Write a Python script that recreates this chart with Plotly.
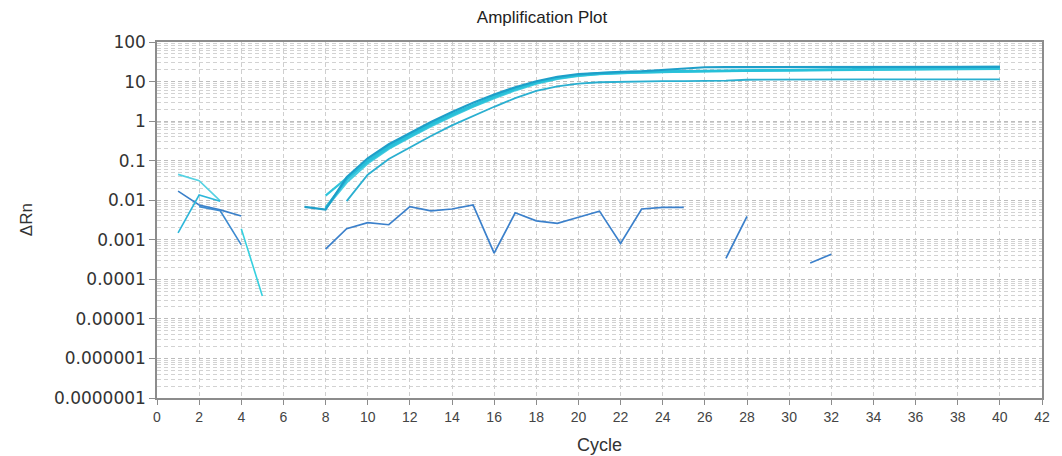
import plotly.graph_objects as go

# ---- amplification curves (ΔRn per cycle) ----
cycles_c2 = list(range(7, 41))
rn_c2 = [0.0068, 0.0058, 0.038, 0.115, 0.26, 0.5, 0.95, 1.7, 2.9, 4.7, 7.2, 10.2, 13.2,
         15.5, 16.8, 17.6, 18.2, 19.5, 21.5, 23.0, 23.2, 23.3, 23.3, 23.4, 23.4, 23.4,
         23.5, 23.5, 23.5, 23.5, 23.6, 23.6, 23.6, 23.6]

cycles_c1 = list(range(8, 41))
rn_c1 = [0.0065, 0.033, 0.1, 0.23, 0.45, 0.85, 1.5, 2.6, 4.3, 6.7, 9.6, 12.6, 14.8, 16.2,
         17.1, 17.7, 18.1, 18.5, 18.8, 19.0, 19.2, 19.4, 19.5, 19.6, 19.8, 20.5, 22.5,
         23.0, 23.1, 23.2, 23.2, 23.3, 23.3]

cycles_c3 = list(range(8, 41))
rn_c3 = [0.013, 0.036, 0.092, 0.21, 0.41, 0.78, 1.4, 2.4, 4.0, 6.3, 9.2, 12.0, 14.2, 15.6,
         16.5, 17.1, 17.6, 18.0, 18.3, 18.6, 18.8, 19.0, 19.2, 19.3, 19.5, 19.6, 19.8,
         20.0, 20.2, 20.4, 20.6, 20.7, 20.8]

cycles_c4 = list(range(8, 41))
rn_c4 = [0.0062, 0.028, 0.085, 0.2, 0.39, 0.74, 1.32, 2.3, 3.8, 6.0, 8.8, 11.6, 13.8, 15.3,
         16.2, 16.9, 17.4, 17.8, 18.2, 18.5, 18.8, 19.0, 19.2, 19.4, 19.6, 19.8, 20.0,
         20.3, 20.6, 20.9, 21.1, 21.3, 21.5]

cycles_c5 = list(range(9, 41))
rn_c5 = [0.0095, 0.044, 0.11, 0.22, 0.42, 0.78, 1.35, 2.3, 3.8, 5.8, 7.6, 8.9, 9.6, 9.9,
         10.1, 10.2, 10.3, 10.3, 10.5, 11.1, 11.2, 11.2, 11.2, 11.2, 11.2, 11.3, 11.3,
         11.3, 11.3, 11.3, 11.3, 11.3]

# ---- baseline fragments (positive ΔRn only on the log axis) ----
cycles_b1 = [1, 2, 3]
rn_b1 = [0.045, 0.031, 0.0096]
cycles_b2 = [1, 2, 3, 4]
rn_b2 = [0.017, 0.0076, 0.0057, 0.004]
cycles_b3 = [1, 2, 3]
rn_b3 = [0.0015, 0.0135, 0.0094]
cycles_b4 = [2, 3, 4]
rn_b4 = [0.0069, 0.0054, 0.00074]
cycles_b5 = [4, 5]
rn_b5 = [0.0019, 0.000038]

# ---- non-amplifying well ----
cycles_n1 = list(range(8, 26))
rn_n1 = [0.00058, 0.0019, 0.0027, 0.0024, 0.0069, 0.0054, 0.006, 0.0076, 0.00046,
         0.0048, 0.003, 0.0026, 0.0037, 0.0053, 0.00081, 0.006, 0.0066, 0.0066]
cycles_n2 = [27, 28]
rn_n2 = [0.00034, 0.0039]
cycles_n3 = [31, 32]
rn_n3 = [0.00026, 0.00043]

# ---- axis ticks ----
y_tickvals = [1e-7, 1e-6, 1e-5, 1e-4, 1e-3, 1e-2, 1e-1, 1, 10, 100]
y_ticktext = ["0.0000001", "0.000001", "0.00001", "0.0001", "0.001", "0.01", "0.1",
              "1", "10", "100"]
y_minorvals = [k * 10.0 ** d for d in range(-7, 2) for k in range(2, 10)]

series = [
    (cycles_b1, rn_b1, "#55D2E3", 1.6),
    (cycles_b2, rn_b2, "#3A80C9", 1.6),
    (cycles_b3, rn_b3, "#2DB7DA", 1.6),
    (cycles_b4, rn_b4, "#3C8AD0", 1.6),
    (cycles_b5, rn_b5, "#35D0DF", 1.6),
    (cycles_n1, rn_n1, "#3B80CB", 1.7),
    (cycles_n2, rn_n2, "#3B80CB", 1.7),
    (cycles_n3, rn_n3, "#3B80CB", 1.7),
    (cycles_c5, rn_c5, "#2AAFD0", 1.8),
    (cycles_c4, rn_c4, "#46CCE0", 2.2),
    (cycles_c3, rn_c3, "#2FC3DA", 2.2),
    (cycles_c1, rn_c1, "#27C0D9", 2.4),
    (cycles_c2, rn_c2, "#1E9FC9", 2.2),
]

fig = go.Figure()
for xs, ys, color, width in series:
    fig.add_trace(go.Scatter(x=xs, y=ys, mode="lines",
                             line=dict(color=color, width=width),
                             showlegend=False, hoverinfo="skip"))

axis_color = "#8c8c8c"

fig.update_layout(
    width=1062, height=456,
    margin=dict(l=157, r=12, t=42, b=58),
    paper_bgcolor="white", plot_bgcolor="white",
    title=dict(text="Amplification Plot", x=542 / 1062, xanchor="center",
               y=1 - 17 / 456, yanchor="middle", yref="container", xref="container",
               font=dict(family="Liberation Sans, Arial", size=17, color="#222")),
    xaxis=dict(range=[0, 42], tickmode="linear", tick0=0, dtick=2,
               showline=True, linecolor=axis_color, linewidth=1.5, mirror=True,
               ticks="outside", ticklen=5, tickcolor=axis_color,
               showgrid=True, gridcolor="#cfcfcf", griddash="4px,3px", gridwidth=1,
               zeroline=False,
               tickfont=dict(family="Liberation Sans, Arial", size=14, color="#444")),
    yaxis=dict(type="log", range=[-7, 2], tickmode="array",
               tickvals=y_tickvals, ticktext=y_ticktext,
               showline=True, linecolor=axis_color, linewidth=1.5, mirror=True,
               ticks="outside", ticklen=6, tickcolor=axis_color,
               showgrid=True, gridcolor="#bdbdbd", griddash="4px,3px", gridwidth=1,
               zeroline=False,
               minor=dict(tickmode="array", tickvals=y_minorvals, showgrid=True,
                          gridcolor="#d2d2d2", griddash="4px,3px", gridwidth=1, ticks=""),
               tickfont=dict(family="DejaVu Sans", size=17, color="#333")),
    annotations=[
        dict(text="ΔRn", xref="paper", yref="paper", x=(25 - 157) / 893, y=0.5,
             xanchor="center", yanchor="middle", textangle=-90, showarrow=False,
             font=dict(family="Liberation Sans, Arial", size=17, color="#333")),
        dict(text="Cycle", xref="paper", yref="paper", x=(603 - 157) / 893,
             y=(398 - 445) / 356, xanchor="center", yanchor="middle", showarrow=False,
             font=dict(family="Liberation Sans, Arial", size=18, color="#333")),
    ],
)

fig.write_html("out.html")
